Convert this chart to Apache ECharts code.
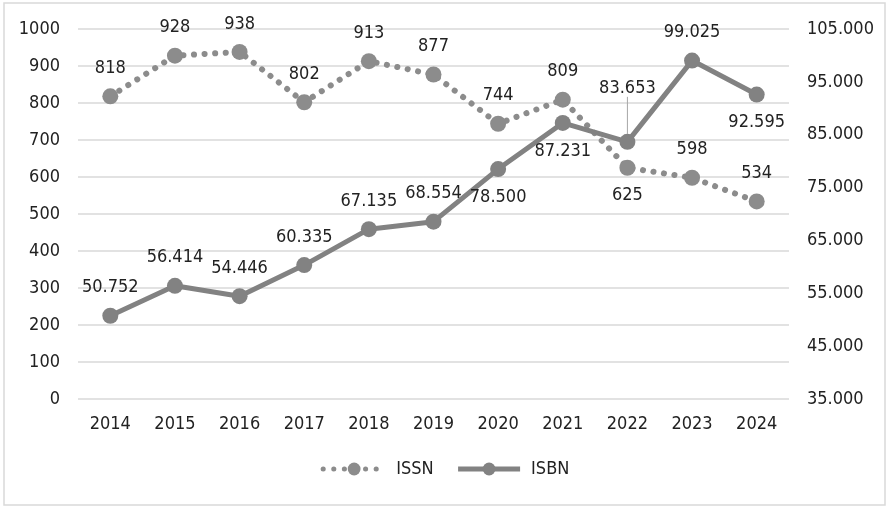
<!DOCTYPE html>
<html lang="en">
<head>
    <meta charset="UTF-8">
    <title>ISSN / ISBN</title>
    <script src="https://cdn.jsdelivr.net/npm/echarts@6/dist/echarts.min.js"></script>
    <style>
        body { margin: 0; background: #fff; }
        #main { width: 890px; height: 508px; }
    </style>
</head>
<body>
<div id="main"></div>
<script>
    var years = ['2014', '2015', '2016', '2017', '2018', '2019', '2020', '2021', '2022', '2023', '2024'];
    var issn = [818, 928, 938, 802, 913, 877, 744, 809, 625, 598, 534];
    var isbn = [50752, 56414, 54446, 60335, 67135, 68554, 78500, 87231, 83653, 99025, 92595];
    // which labels sit under the point
    var issnBelow = [8];
    var isbnBelow = [6, 7, 10];
    var isbnLeader = 8; // label pulled up with a leader line

    var FONT = '"DejaVu Sans Condensed", "DejaVu Sans", sans-serif';
    var FS = 18;

    function dotted(v) {
        var s = String(Math.round(v));
        return s.replace(/\B(?=(\d{3})+(?!\d))/g, '.');
    }
    function plain(v) {
        return String(v);
    }

    var issnData = issn.map(function (v, i) {
        return { value: v, label: { position: issnBelow.indexOf(i) >= 0 ? 'bottom' : 'top' } };
    });
    var isbnData = isbn.map(function (v, i) {
        var d = { value: v, label: { position: isbnBelow.indexOf(i) >= 0 ? 'bottom' : 'top' } };
        if (i === isbnLeader) d.labelLine = { show: true };
        return d;
    });

    var myChart = echarts.init(document.getElementById('main'));
    var option = {
        backgroundColor: '#fff',
        animation: false,
        textStyle: { fontFamily: FONT },
        graphic: [{
            type: 'rect',
            shape: { x: 4, y: 3, width: 881, height: 502 },
            style: { fill: 'none', stroke: '#d9d9d9', lineWidth: 1.5 },
            silent: true
        }],
        grid: { left: 78, right: 101, top: 29, bottom: 109 },
        legend: {
            bottom: 25,
            left: 'center',
            itemWidth: 62,
            itemHeight: 16,
            itemGap: 22,
            lineStyle: { width: 5 },
            textStyle: { fontFamily: FONT, fontSize: FS, color: '#222', padding: [0, 0, 0, 6] },
            data: ['ISSN', 'ISBN']
        },
        xAxis: {
            type: 'category',
            data: years,
            boundaryGap: true,
            axisLine: { show: false },
            axisTick: { show: false },
            axisLabel: { fontFamily: FONT, fontSize: FS, color: '#222', margin: 16 }
        },
        yAxis: [{
            type: 'value',
            min: 0, max: 1000, interval: 100,
            axisLabel: { fontFamily: FONT, fontSize: FS, color: '#222', margin: 18, formatter: plain },
            splitLine: { lineStyle: { color: '#d9d9d9', width: 1.5 } }
        }, {
            type: 'value',
            min: 35000, max: 105000, interval: 10000,
            position: 'right',
            axisLabel: { fontFamily: FONT, fontSize: FS, color: '#222', margin: 18, formatter: dotted },
            splitLine: { show: false }
        }],
        series: [{
            name: 'ISSN',
            type: 'line',
            yAxisIndex: 0,
            data: issnData,
            symbol: 'circle',
            symbolSize: 16,
            itemStyle: { color: '#8c8c8c' },
            lineStyle: { color: '#8c8c8c', width: 6, type: [0.1, 10.5], cap: 'round' },
            label: {
                show: true, fontFamily: FONT, fontSize: FS, color: '#222', distance: 11,
                formatter: function (p) { return dotted(p.value); }
            },
            z: 2
        }, {
            name: 'ISBN',
            type: 'line',
            yAxisIndex: 1,
            data: isbnData,
            symbol: 'circle',
            symbolSize: 16,
            itemStyle: { color: '#828282' },
            lineStyle: { color: '#828282', width: 5 },
            label: {
                show: true, fontFamily: FONT, fontSize: FS, color: '#222', distance: 11,
                formatter: function (p) { return dotted(p.value); }
            },
            labelLine: { show: false, lineStyle: { color: '#a6a6a6', width: 1 } },
            labelLayout: function (p) {
                if (p.dataIndex === isbnLeader) return { dy: -26 };
                return {};
            },
            z: 3
        }]
    };
    myChart.setOption(option);
</script>
</body>
</html>
